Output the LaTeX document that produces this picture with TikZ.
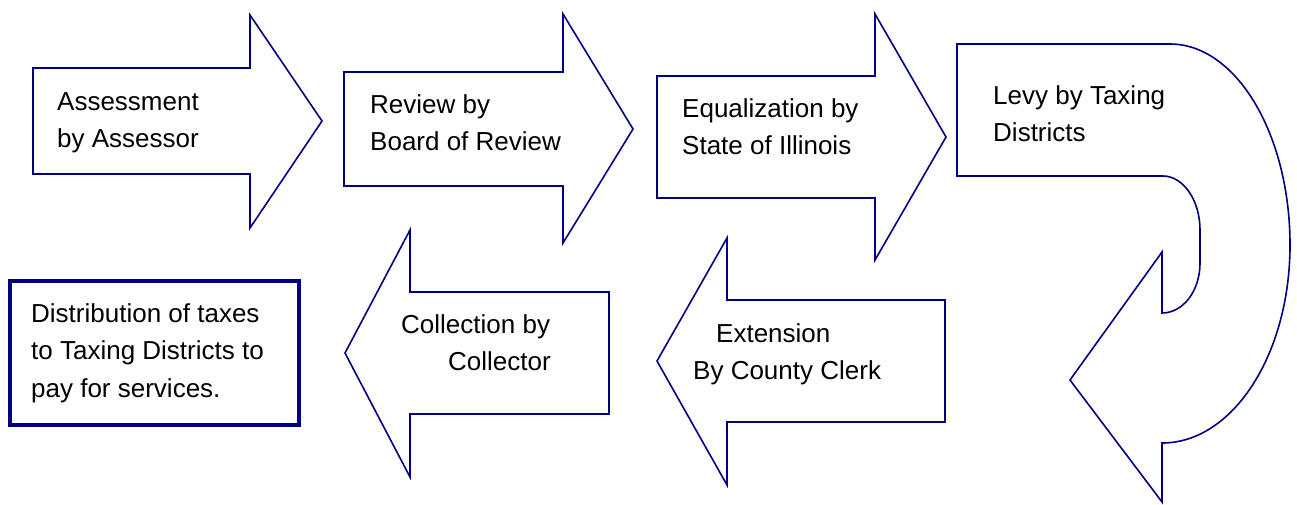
\documentclass[tikz,border=0pt]{standalone}
\usepackage{fontspec}
\setmainfont{Liberation Sans}
\definecolor{navy}{RGB}{0,0,128}
\tikzset{
  shapearrow/.style={draw=navy, fill=white, line width=1.6pt, line join=miter},
  lbl/.style={anchor=base west, inner sep=0pt, font=\fontsize{26}{37.5}\selectfont, text=black},
  distbox/.style={draw=navy, line width=3.6pt, anchor=north west, minimum width=289pt, minimum height=144pt, inner sep=0pt}
}
\begin{document}
\begin{tikzpicture}[x=1pt,y=-1pt]
\useasboundingbox (0,0) rectangle (1297,504);
% arrow 1
\draw[shapearrow] (33,68) -- (250,68) -- (250,15) -- (322,121) -- (250,228) -- (250,174) -- (33,174) -- cycle;
% arrow 2
\draw[shapearrow] (344,72) -- (563,72) -- (563,14) -- (633,129) -- (563,243) -- (563,186) -- (344,186) -- cycle;
% arrow 3
\draw[shapearrow] (657,76) -- (875,76) -- (875,14) -- (946,137) -- (875,260) -- (875,198) -- (657,198) -- cycle;
% U-turn arrow
\draw[shapearrow] (957,44) -- (1170,44)
  .. controls (1236,44) and (1290,134) .. (1290,245)
  .. controls (1290,354) and (1233,443) .. (1162,443)
  -- (1162,502) -- (1070,380) -- (1162,252) -- (1162,313)
  .. controls (1183,313) and (1200,291) .. (1200,263)
  -- (1200,230)
  .. controls (1200,200) and (1183,176) .. (1163,176)
  -- (957,176) -- cycle;
% arrow 4 (left)
\draw[shapearrow] (945,300) -- (727,300) -- (727,238) -- (657,361) -- (727,485) -- (727,422) -- (945,422) -- cycle;
% arrow 5 (left)
\draw[shapearrow] (609,292) -- (410,292) -- (410,230) -- (345,353) -- (410,477) -- (410,414) -- (609,414) -- cycle;
% distribution box
\node[distbox] (dist) at (8,279) {};
% labels
\node[lbl] (assess) at (57,110) {\vtop{\hbox{Assessment}\hbox{by Assessor}}};
\node[lbl] (review) at (370,113) {\vtop{\hbox{Review by}\hbox{Board of Review}}};
\node[lbl] (equal) at (682,117) {\vtop{\hbox{Equalization by}\hbox{State of Illinois}}};
\node[lbl] (levy) at (993,104) {\vtop{\hbox{Levy by Taxing}\hbox{Districts}}};
\node[lbl] (ext) at (693,342) {\vtop{\hbox{\hspace{23pt}Extension}\hbox{By County Clerk}}};
\node[lbl] (coll) at (401,333) {\vtop{\hbox{Collection by}\hbox{\hspace{47pt}Collector}}};
\node[lbl] (distt) at (31,322) {\vtop{\hbox{Distribution of taxes}\hbox{to Taxing Districts to}\hbox{pay for services.}}};
\end{tikzpicture}
\end{document}
